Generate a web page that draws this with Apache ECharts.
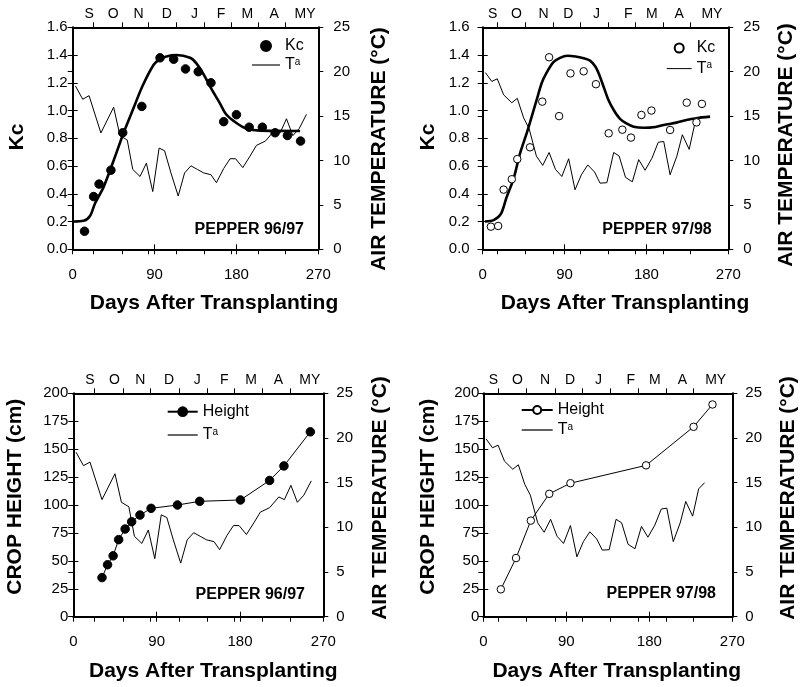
<!DOCTYPE html>
<html>
<head>
<meta charset="utf-8">
<title>Pepper Kc and crop height</title>
<script src="https://cdn.jsdelivr.net/npm/echarts@6/dist/echarts.min.js"></script>
<style>
  html, body { margin: 0; padding: 0; background: #fff; }
  #chart { width: 800px; height: 687px; }
</style>
</head>
<body>
<div id="chart"></div>
<script>
// values, x = days after transplanting
const months = ['S', 'O', 'N', 'D', 'J', 'F', 'M', 'A', 'MY']
const monthTicks9697 = [23, 54, 83, 114, 145, 174, 204, 234]
const monthLabelDays9697 = [18, 44.5, 72.5, 103.4, 134, 163, 192, 221.4, 255.4]
const monthTicks9798 = [16, 47, 77.5, 107, 138, 167.5, 198, 228]
const monthLabelDays9798 = [11, 37, 67, 94, 125, 160, 186, 216, 252]

const kc9697 = [[13, 0.13], [23, 0.38], [29, 0.47], [42, 0.57], [55, 0.84], [76, 1.03], [96, 1.38],
  [111, 1.37], [124, 1.30], [138, 1.28], [152, 1.20], [166, 0.92], [180, 0.97], [194, 0.88],
  [208.5, 0.88], [222.5, 0.84], [236, 0.82], [250.5, 0.78]]
const kcFit9697 = [[1, 0.20], [12, 0.205], [19, 0.24], [24.5, 0.33], [34, 0.45], [45, 0.64], [56, 0.84],
  [67, 1.02], [77, 1.18], [89, 1.33], [96, 1.37], [103, 1.39], [114, 1.40], [129, 1.38], [136, 1.34],
  [144, 1.26], [153, 1.15], [162, 1.05], [169, 0.97], [180, 0.91], [191, 0.87], [206, 0.855], [250, 0.853]]

const kc9798 = [[9, 0.163], [17, 0.168], [23, 0.43], [32, 0.505], [38, 0.65], [52, 0.735], [65.5, 1.064],
  [73, 1.384], [84, 0.96], [96.5, 1.268], [111, 1.283], [124.5, 1.19], [138.5, 0.836], [153.5, 0.862],
  [163, 0.805], [174.5, 0.968], [185.5, 1.0], [206, 0.86], [224.3, 1.057], [235, 0.915], [241, 1.048]]
const kcFit9798 = [[2.5, 0.20], [12, 0.21], [20, 0.255], [26, 0.37], [34, 0.51], [41, 0.69], [49, 0.85],
  [59, 1.07], [65, 1.20], [70, 1.27], [78, 1.35], [85, 1.38], [93, 1.395], [102, 1.39], [111, 1.377],
  [118, 1.36], [124, 1.316], [128, 1.26], [133, 1.17], [138, 1.08], [144, 1.004], [151, 0.94], [158, 0.908],
  [166, 0.884], [177, 0.876], [190, 0.882], [199, 0.896], [213, 0.913], [224, 0.932], [235, 0.945], [250, 0.956]]

const ta9697 = [[3, 18.4], [11, 16.9], [18, 17.3], [31, 13.1], [45, 16.0], [52, 12.8], [60, 12.3], [66, 9.0],
  [74, 8.2], [81, 9.7], [88, 6.5], [95, 11.4], [101, 11.1], [108, 8.6], [116, 6.0], [123, 8.6], [130, 9.4],
  [137, 9.0], [144, 8.6], [152, 8.4], [158, 7.5], [166, 9.1], [173, 10.2], [179, 10.2], [187, 9.2],
  [195, 10.5], [202, 11.7], [212, 12.2], [222, 13.4], [228, 13.1], [235, 14.7], [242, 12.8], [249, 13.6], [257, 15.2]]
const ta9798 = [[3, 19.9], [10, 18.9], [16, 19.2], [23, 17.4], [32, 16.5], [38, 17.0], [45, 14.8], [51, 13.6],
  [59, 10.5], [66, 9.45], [73, 10.9], [80, 9.0], [87, 8.2], [94.5, 10.2], [101.5, 6.7], [108.5, 8.4],
  [115.5, 9.5], [123, 8.7], [129, 7.45], [136.5, 7.5], [144, 10.9], [150, 10.5], [157, 8.1], [164.5, 7.6],
  [171.5, 10.1], [178.5, 8.9], [186, 10.25], [193, 12.05], [199, 12.15], [206, 8.4], [213.5, 10.5],
  [219.5, 12.9], [227, 11.25], [233.5, 14.3], [240, 15.0]]

const height9697 = [[31, 35], [37, 46.5], [43, 54.5], [49, 69], [56, 78.5], [63, 85], [72, 91], [84, 97],
  [112.5, 100], [136.5, 103.3], [180.5, 104.5], [212, 122], [227.5, 135], [256, 165.5]]
const height9798 = [[19, 24.5], [35.5, 52.5], [51.5, 86], [71.5, 110], [94.5, 119.5], [176.5, 135.5],
  [228, 170], [248.5, 190]]

const FONT = '"Liberation Sans", Arial, Helvetica, sans-serif'
const BLACK = '#000'

const panels = [
  { kind: 'kc', season: '96/97', obs: kc9697, fit: kcFit9697, ta: ta9697, ticks: monthTicks9697,
    labelDays: monthLabelDays9697, filled: true,
    grid: { left: 72.7, top: 27.3, width: 245.6, height: 222 }, leftMargin: 5, rightMargin: 15,
    legend: { left: 252, top: 38, itemWidth: 28, itemHeight: 10, itemGap: 3 } },
  { kind: 'kc', season: '97/98', obs: kc9798, fit: kcFit9798, ta: ta9798, ticks: monthTicks9798,
    labelDays: monthLabelDays9798, filled: false,
    grid: { left: 482.7, top: 27.3, width: 245.6, height: 222 }, leftMargin: 13, rightMargin: 15,
    legend: { left: 666.7, top: 40, itemWidth: 25, itemHeight: 9, itemGap: 4.6 } },
  { kind: 'height', season: '96/97', obs: height9697, ta: ta9697, ticks: monthTicks9697,
    labelDays: monthLabelDays9697, filled: true,
    grid: { left: 73.3, top: 393.3, width: 250, height: 223.4 }, leftMargin: 5, rightMargin: 13,
    legend: { left: 166.7, top: 403.7, itemWidth: 30, itemHeight: 11, itemGap: 7.3 } },
  { kind: 'height', season: '97/98', obs: height9798, ta: ta9798, ticks: monthTicks9798,
    labelDays: monthLabelDays9798, filled: false,
    grid: { left: 483.3, top: 393.3, width: 249, height: 223.4 }, leftMargin: 4, rightMargin: 13,
    legend: { left: 520.7, top: 402, itemWidth: 31, itemHeight: 10, itemGap: 4 } },
]

// each axis is drawn twice (outward + inward ticks) so the ticks cross the frame
function axisPair(common, tick, label) {
  const tickStyle = { length: 5, lineStyle: { color: BLACK, width: 1 } }
  return [
    { ...common, axisLine: { show: true, onZero: false, lineStyle: { color: BLACK, width: 2 } },
      axisTick: { ...tick, ...tickStyle }, axisLabel: label, splitLine: { show: false } },
    { ...common, axisLine: { show: false }, axisTick: { ...tick, ...tickStyle, inside: true },
      axisLabel: { show: false }, splitLine: { show: false } },
  ]
}

const tickFont = { color: BLACK, fontFamily: FONT, fontSize: 15 }
const xAxis = [], yAxis = [], series = [], legend = [], graphic = []

panels.forEach((p, i) => {
  const ix = i * 4
  const symbolStyle = { color: p.filled ? BLACK : '#fff', borderColor: BLACK, borderWidth: 1, opacity: 1 }
  const taName = 'Ta ' + p.season + ' ' + i

  xAxis.push(...axisPair({ gridIndex: i, type: 'value', position: 'bottom', min: 0, max: 270, interval: 90 },
    {}, { ...tickFont, margin: 18 }))
  xAxis.push(...axisPair({ gridIndex: i, type: 'value', position: 'top', min: 0, max: 270 },
    { customValues: p.ticks },
    { ...tickFont, fontSize: 14, margin: 6, customValues: p.labelDays,
      formatter: (v) => months[p.labelDays.indexOf(v)] }))

  const left = p.kind === 'kc'
    ? { min: 0, max: 1.6, interval: 0.2, fmt: (v) => v.toFixed(1) }
    : { min: 0, max: 200, interval: 25, fmt: (v) => String(v) }
  yAxis.push(...axisPair({ gridIndex: i, type: 'value', position: 'left', min: left.min, max: left.max, interval: left.interval },
    {}, { ...tickFont, margin: p.leftMargin, formatter: left.fmt }))
  yAxis.push(...axisPair({ gridIndex: i, type: 'value', position: 'right', min: 0, max: 25, interval: 5 },
    {}, { ...tickFont, margin: p.rightMargin }))

  series.push({
    name: taName, type: 'line', xAxisIndex: ix, yAxisIndex: ix + 2, color: BLACK,
    data: p.ta, symbol: 'none', itemStyle: { color: BLACK }, lineStyle: { color: BLACK, width: 1 }, z: 2,
  })
  if (p.kind === 'kc') {
    series.push({
      name: 'fit ' + p.season, type: 'line', xAxisIndex: ix, yAxisIndex: ix, color: BLACK,
      data: p.fit, symbol: 'none', smooth: 0.3, lineStyle: { color: BLACK, width: 2.6 }, z: 3,
    })
    series.push({
      name: 'Kc ' + p.season, type: 'scatter', xAxisIndex: ix, yAxisIndex: ix,
      data: p.obs, symbol: 'circle', symbolSize: p.filled ? 8.5 : 7.5, itemStyle: symbolStyle, z: 4,
    })
  } else {
    series.push({
      name: 'Height ' + p.season, type: 'line', xAxisIndex: ix, yAxisIndex: ix,
      data: p.obs, symbol: 'circle', symbolSize: p.filled ? 8.5 : 7.5, itemStyle: symbolStyle,
      lineStyle: { color: BLACK, width: 1 }, z: 4,
    })
  }

  const obsName = (p.kind === 'kc' ? 'Kc ' : 'Height ') + p.season
  legend.push({
    ...p.legend, orient: 'vertical', padding: 0, selectedMode: false,
    data: [obsName, { name: taName, icon: 'path://M0,0H100V4H0Z', itemStyle: { color: BLACK } }],
    formatter: (n) => n.startsWith('Ta') ? '{t|T}{s|a}' : '{t|' + n.split(' ')[0] + '}',
    textStyle: {
      color: BLACK, fontFamily: FONT, fontSize: 16, lineHeight: 16,
      rich: {
        t: { fontFamily: FONT, fontSize: 16, lineHeight: 16, color: BLACK },
        s: { fontFamily: FONT, fontSize: 10, lineHeight: 10, verticalAlign: 'top', color: BLACK },
      },
    },
  })
})

// axis titles and season labels
const titles = [
  { text: 'Kc', x: 17, y: 137, rot: true },
  { text: 'AIR TEMPERATURE (°C)', x: 379, y: 149, rot: true },
  { text: 'Days After Transplanting', x: 214, y: 303 },
  { text: 'Kc', x: 428.3, y: 137, rot: true },
  { text: 'AIR TEMPERATURE (°C)', x: 786.7, y: 145, rot: true },
  { text: 'Days After Transplanting', x: 625, y: 303 },
  { text: 'CROP HEIGHT (cm)', x: 15, y: 496.7, rot: true },
  { text: 'AIR TEMPERATURE (°C)', x: 380, y: 498, rot: true },
  { text: 'Days After Transplanting', x: 213.3, y: 671.7 },
  { text: 'CROP HEIGHT (cm)', x: 428.3, y: 496.7, rot: true },
  { text: 'AIR TEMPERATURE (°C)', x: 788.3, y: 498, rot: true },
  { text: 'Days After Transplanting', x: 616.7, y: 671.7 },
]
titles.forEach((t) => graphic.push({
  type: 'text', x: t.x, y: t.y, rotation: t.rot ? Math.PI / 2 : 0,
  style: { text: t.text, fill: BLACK, fontFamily: FONT, fontWeight: 'bold', fontSize: 21,
    align: 'center', verticalAlign: 'middle' },
}))

const seasonLabels = [
  { text: 'PEPPER 96/97', x: 304, y: 230 },
  { text: 'PEPPER 97/98', x: 711.7, y: 230 },
  { text: 'PEPPER 96/97', x: 305, y: 594.3 },
  { text: 'PEPPER 97/98', x: 716, y: 593.3 },
]
seasonLabels.forEach((t) => graphic.push({
  type: 'text', x: t.x, y: t.y,
  style: { text: t.text, fill: BLACK, fontFamily: FONT, fontWeight: 'bold', fontSize: 16,
    align: 'right', verticalAlign: 'middle' },
}))

const chart = echarts.init(document.getElementById('chart'), null, { renderer: 'canvas' })
chart.setOption({
  animation: false,
  backgroundColor: '#fff',
  grid: panels.map((p) => ({ ...p.grid, containLabel: false, outerBoundsMode: 'none' })),
  xAxis,
  yAxis,
  series,
  legend,
  graphic,
})
</script>
</body>
</html>
